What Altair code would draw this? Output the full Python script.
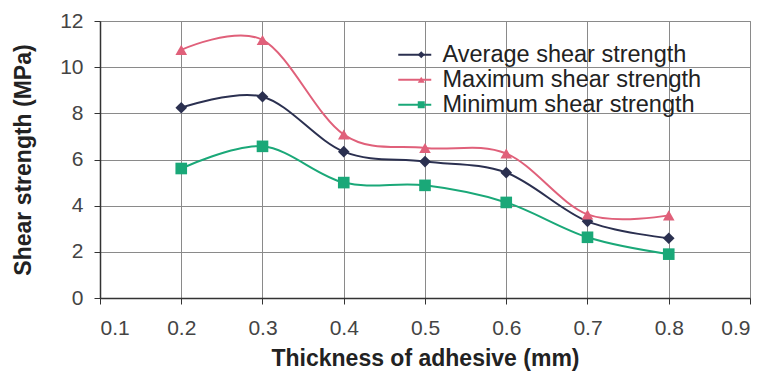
import altair as alt
import pandas as pd

thickness = [0.2, 0.3, 0.4, 0.5, 0.6, 0.7, 0.8]
average = [8.24, 8.72, 6.34, 5.91, 5.43, 3.32, 2.59]
maximum = [10.75, 11.18, 7.08, 6.50, 6.26, 3.62, 3.58]
minimum = [5.61, 6.57, 5.00, 4.88, 4.14, 2.63, 1.90]

series_names = ["Average shear strength", "Maximum shear strength", "Minimum shear strength"]
series_colors = ["#2b3050", "#e0607a", "#1aa878"]
series_shapes = ["diamond", "triangle-up", "square"]

rows = []
for name, vals in zip(series_names, [average, maximum, minimum]):
    for t, v in zip(thickness, vals):
        rows.append({"t": t, "v": v, "s": name, "series": name})
df = pd.DataFrame(rows)

LX, LY = 303, 22
SYM1 = 400   # line legend symbol size (sqrt = 20)
SYM2 = 49    # marker legend symbol size (sqrt = 7)

x = alt.X("t:Q", title="Thickness of adhesive (mm)",
          scale=alt.Scale(domain=[0.1, 0.9], nice=False, zero=False),
          axis=alt.Axis(values=[0.1, 0.2, 0.3, 0.4, 0.5, 0.6, 0.7, 0.8, 0.9], format=".1f",
                        titleY=67, titleBaseline="alphabetic"))
y = alt.Y("v:Q", title="Shear strength (MPa)",
          scale=alt.Scale(domain=[0, 12], nice=False),
          axis=alt.Axis(values=[0, 2, 4, 6, 8, 10, 12], titleX=-70, titleBaseline="alphabetic"))

common_legend = dict(title=None, orient="none", padding=0, rowPadding=0,
                     labelFontSize=23.5, labelFont="Liberation Sans", labelColor="#222",
                     labelLimit=400)

lines = alt.Chart(df).mark_line(interpolate="cardinal", strokeWidth=2).encode(
    x=x, y=y,
    stroke=alt.Stroke("series:N", scale=alt.Scale(range=series_colors),
                      sort=series_names,
                      legend=alt.Legend(legendX=LX, legendY=LY, symbolSize=SYM1,
                                        symbolType="M-1.65,0H1.65", symbolStrokeWidth=2,
                                        labelOffset=16, **common_legend)),
)

marker_legend = alt.Legend(legendX=LX + 10 - 3.5, legendY=LY, symbolSize=SYM2,
                           labelExpr="''", labelOffset=16, **common_legend)

points = alt.Chart(df).mark_point(filled=True, opacity=1, size=135).encode(
    x=x, y=y,
    color=alt.Color("s:N", scale=alt.Scale(domain=series_names, range=series_colors),
                    sort=series_names, legend=marker_legend),
    shape=alt.Shape("s:N", scale=alt.Scale(domain=series_names, range=series_shapes),
                    sort=series_names, legend=marker_legend),
)

chart = alt.layer(lines, points).properties(
    width=650, height=277,
    autosize=alt.AutoSizeParams(type="none"),
    padding={"left": 92, "top": 13, "right": 12, "bottom": 73},
    background="white",
).configure_view(
    stroke="#888", strokeWidth=1
).configure_axis(
    gridColor="#8a8a8a", gridWidth=1, gridOpacity=1,
    domainColor="#333", domainWidth=1.5,
    tickColor="#333", tickSize=6,
    labelFont="Liberation Sans", labelFontSize=21, labelColor="#444",
    titleFont="Liberation Sans", titleFontSize=23, titleFontWeight="bold", titleColor="#222",
).configure_axisX(
    labelPadding=13,
).configure_axisY(
    labelPadding=11,
)

chart.save("out.html", embed_options={"renderer": "svg", "actions": False})
